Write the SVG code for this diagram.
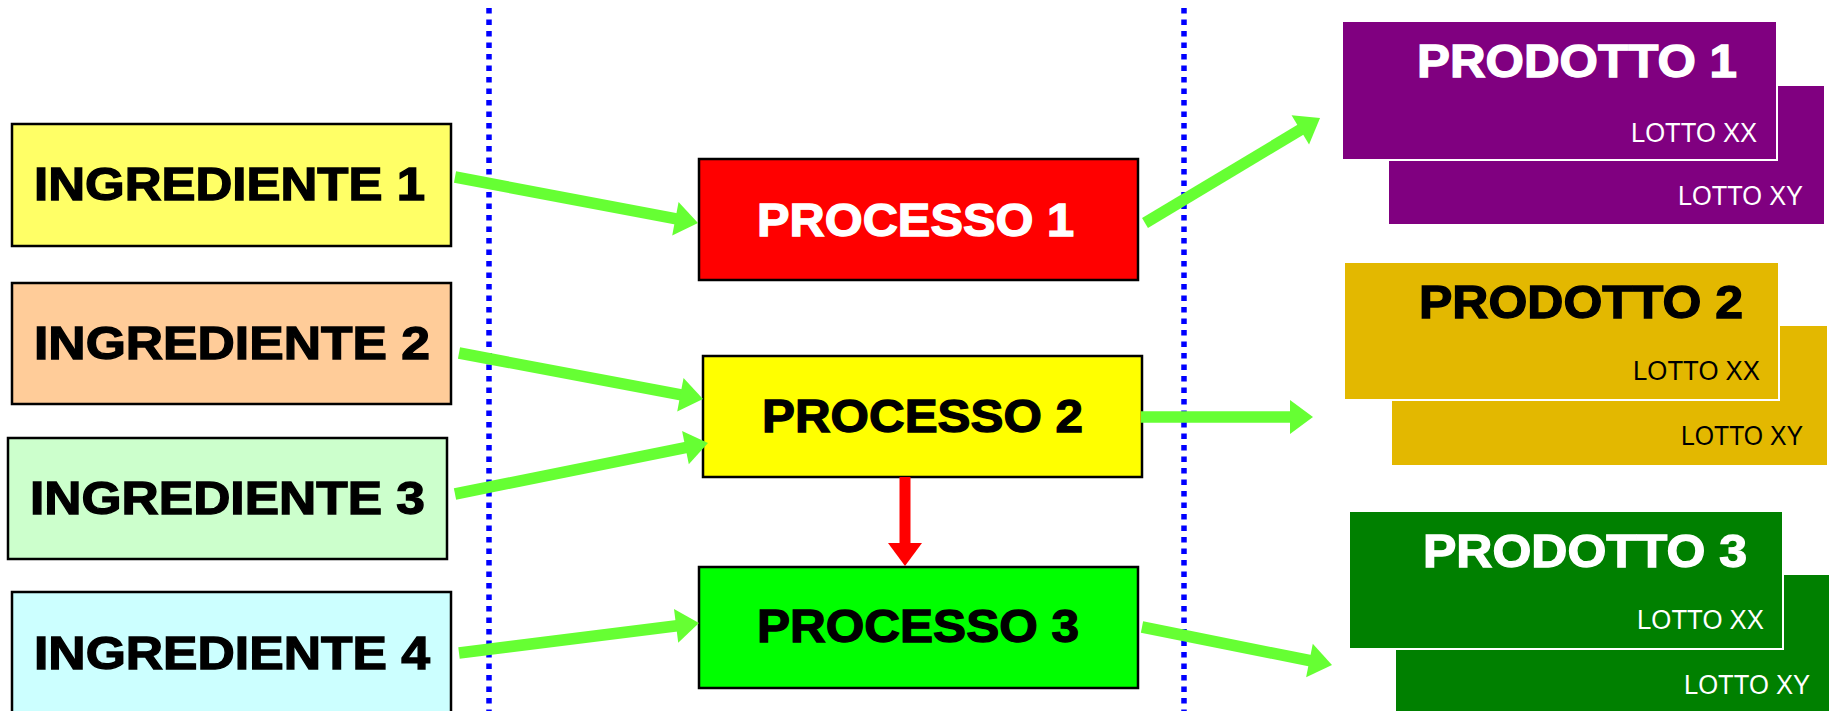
<svg xmlns="http://www.w3.org/2000/svg" width="1829" height="711" viewBox="0 0 1829 711">
<style>
.box{stroke:#000;stroke-width:2.5}
.big{font-family:"Liberation Sans",Arial,sans-serif;font-weight:bold;font-size:46.5px;stroke-width:1.3}
.blk{fill:#000;stroke:#000}
.wht{fill:#fff;stroke:#fff}
.lot{font-family:"Liberation Sans",Arial,sans-serif;font-size:27px}
.front{stroke:#fff;stroke-width:2}
.sep{stroke:#0000FF;stroke-width:5.5;stroke-dasharray:5.5 6;fill:none}
.ga{stroke:#66FF33;stroke-width:11.5;fill:none;marker-end:url(#gh)}
.ra{stroke:#FF0000;stroke-width:11;fill:none;marker-end:url(#rh)}
</style>
<defs>
<marker id="gh" markerUnits="userSpaceOnUse" markerWidth="24" markerHeight="34" refX="5" refY="17" orient="auto" overflow="visible">
<path d="M0,0 L23,17 L0,34 Z" fill="#66FF33"/>
</marker>
<marker id="rh" markerUnits="userSpaceOnUse" markerWidth="24" markerHeight="34" refX="5" refY="17" orient="auto" overflow="visible">
<path d="M0,0 L23,17 L0,34 Z" fill="#FF0000"/>
</marker>
</defs>
<rect width="1829" height="711" fill="#fff"/>
<g id="separators">
<line class="sep" x1="489" y1="8" x2="489" y2="711"/>
<line class="sep" x1="1184" y1="8" x2="1184" y2="711"/>
</g>
<g id="ingrediente1">
<rect class="box" x="12" y="124" width="439" height="122" fill="#FFFF66"/>
<text class="big blk" x="34" y="200" textLength="391" lengthAdjust="spacingAndGlyphs">INGREDIENTE 1</text>
</g>
<g id="ingrediente2">
<rect class="box" x="12" y="283" width="439" height="121" fill="#FFCC99"/>
<text class="big blk" x="34" y="359" textLength="396" lengthAdjust="spacingAndGlyphs">INGREDIENTE 2</text>
</g>
<g id="ingrediente3">
<rect class="box" x="8" y="438" width="439" height="121" fill="#CCFFCC"/>
<text class="big blk" x="30" y="514" textLength="395" lengthAdjust="spacingAndGlyphs">INGREDIENTE 3</text>
</g>
<g id="ingrediente4">
<rect class="box" x="12" y="592" width="439" height="124" fill="#CCFFFF"/>
<text class="big blk" x="34" y="669" textLength="396" lengthAdjust="spacingAndGlyphs">INGREDIENTE 4</text>
</g>
<g id="processo1">
<rect class="box" x="699" y="159" width="439" height="121" fill="#FF0000"/>
<text class="big wht" x="757" y="236" textLength="317" lengthAdjust="spacingAndGlyphs">PROCESSO 1</text>
</g>
<g id="processo2">
<rect class="box" x="703" y="356" width="439" height="121" fill="#FFFF00"/>
<text class="big blk" x="762" y="432" textLength="321" lengthAdjust="spacingAndGlyphs">PROCESSO 2</text>
</g>
<g id="processo3">
<rect class="box" x="699" y="567" width="439" height="121" fill="#00FF00"/>
<text class="big blk" x="757" y="642" textLength="322" lengthAdjust="spacingAndGlyphs">PROCESSO 3</text>
</g>
<g id="prodotto1">
<rect x="1389" y="86" width="435" height="138" fill="#800080"/>
<rect class="front" x="1342" y="21" width="435" height="139" fill="#800080"/>
<text class="big wht" x="1417" y="77" textLength="320" lengthAdjust="spacingAndGlyphs">PRODOTTO 1</text>
<text class="lot" fill="#fff" x="1631" y="142" textLength="126" lengthAdjust="spacingAndGlyphs">LOTTO XX</text>
<text class="lot" fill="#fff" x="1678" y="205" textLength="125" lengthAdjust="spacingAndGlyphs">LOTTO XY</text>
</g>
<g id="prodotto2">
<rect x="1392" y="326" width="435" height="139" fill="#E3B800"/>
<rect class="front" x="1344" y="262" width="435" height="138" fill="#E3B800"/>
<text class="big blk" x="1419" y="318" textLength="324" lengthAdjust="spacingAndGlyphs">PRODOTTO 2</text>
<text class="lot" fill="#000" x="1633" y="380" textLength="127" lengthAdjust="spacingAndGlyphs">LOTTO XX</text>
<text class="lot" fill="#000" x="1681" y="445" textLength="122" lengthAdjust="spacingAndGlyphs">LOTTO XY</text>
</g>
<g id="prodotto3">
<rect x="1396" y="575" width="440" height="140" fill="#008000"/>
<rect class="front" x="1349" y="511" width="434" height="138" fill="#008000"/>
<text class="big wht" x="1423" y="567" textLength="324" lengthAdjust="spacingAndGlyphs">PRODOTTO 3</text>
<text class="lot" fill="#fff" x="1637" y="629" textLength="127" lengthAdjust="spacingAndGlyphs">LOTTO XX</text>
<text class="lot" fill="#fff" x="1684" y="694" textLength="126" lengthAdjust="spacingAndGlyphs">LOTTO XY</text>
</g>
<g id="connectors">
<line class="ga" x1="455" y1="177" x2="680.3" y2="219.65"/>
<line class="ga" x1="459" y1="353" x2="685.3" y2="395.7"/>
<line class="ga" x1="455" y1="494" x2="690.35" y2="446.56"/>
<line class="ga" x1="459" y1="653" x2="681.1" y2="625.2"/>
<line class="ga" x1="1145" y1="223" x2="1304.6" y2="127.3"/>
<line class="ga" x1="1141" y1="417" x2="1295" y2="417"/>
<line class="ga" x1="1142" y1="627" x2="1314.35" y2="661.5"/>
<line class="ra" x1="905" y1="477" x2="905" y2="548"/>
</g>
</svg>
